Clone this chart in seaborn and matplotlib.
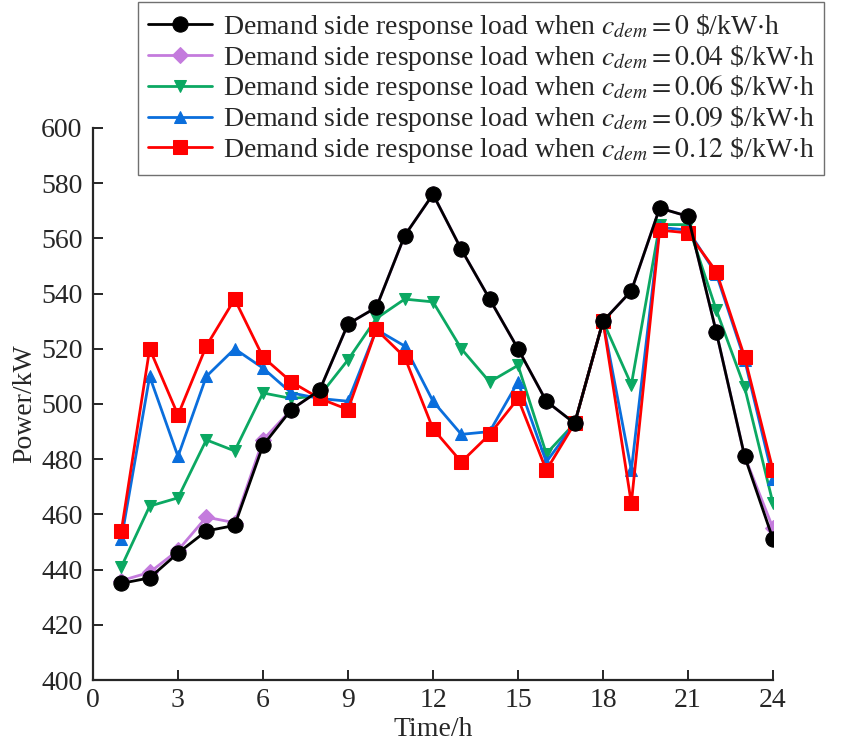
"""
Demand side response load under different demand response prices.
"""
import numpy  as np
import pandas as pd
import matplotlib
matplotlib.use("Agg")
import matplotlib.pyplot as plt
import seaborn           as sns


# ================================================================================
# Data
# ================================================================================
hours = list(range(1, 25))

load_c000 = [435, 437, 446, 454, 456, 485, 498, 505, 529, 535, 561, 576,
             556, 538, 520, 501, 493, 530, 541, 571, 568, 526, 481, 451]
load_c004 = [436, 439, 447, 459, 457, 487, 498, 505, 529, 535, 561, 576,
             556, 538, 520, 501, 493, 530, 541, 571, 568, 526, 481, 455]
load_c006 = [441, 463, 466, 487, 483, 504, 502, 503, 516, 531, 538, 537,
             520, 508, 514, 482, 493, 530, 507, 565, 565, 534, 506, 464]
load_c009 = [451, 510, 481, 510, 520, 513, 504, 502, 501, 527, 521, 501,
             489, 490, 508, 479, 493, 530, 476, 564, 563, 547, 516, 473]
load_c012 = [454, 520, 496, 521, 538, 517, 508, 502, 498, 527, 517, 491,
             479, 489, 502, 476, 493, 530, 464, 563, 562, 548, 517, 476]

prices   = ["0", "0.04", "0.06", "0.09", "0.12"]
series   = [load_c000, load_c004, load_c006, load_c009, load_c012]
colors   = ["#000000", "#C47BDD", "#0BA862", "#0A6EDC", "#FF0000"]
markers  = ["o", "D", "v", "^", "s"]
msizes   = [11, 8, 9, 9, 10]
zorders  = [10, 3, 4, 5, 6]

# ================================================================================
# Styling
# ================================================================================
sns.set_style("ticks")
plt.rcParams["font.family"]      = ["Liberation Serif", "DejaVu Serif"]
plt.rcParams["mathtext.fontset"] = "stix"
plt.rcParams["axes.linewidth"]   = 1.6

TICK_SIZE   = 20
LABEL_SIZE  = 20
LEGEND_SIZE = 20

fig = plt.figure(figsize=(8.41, 7.55), dpi=100)
ax  = fig.add_axes([93 / 841, 1 - 680 / 755, 680 / 841, 552 / 755])

# --------------------------------------------------------------------------------
# Plot every series
# --------------------------------------------------------------------------------
for price, vals, col, mk, ms, z in zip(prices, series, colors, markers, msizes, zorders):
    label = f"Demand side response load when $c_{{dem}}={price}$ \\$/kW$\\cdot$h"
    sns.lineplot(x=hours, y=vals, color=col, marker=mk, markersize=ms,
                 markeredgecolor=col, linewidth=2.0, ax=ax, label=label, zorder=z)

# --------------------------------------------------------------------------------
# Axes
# --------------------------------------------------------------------------------
ax.set_xlim(0, 24)
ax.set_ylim(400, 600)
ax.set_xticks(np.arange(0, 25, 3))
ax.set_yticks(np.arange(400, 601, 20))
ax.tick_params(axis="both", direction="in", length=7, width=1.4, labelsize=TICK_SIZE)
ax.tick_params(axis="x", pad=6)
ax.tick_params(axis="y", pad=7.5)
sns.despine(ax=ax)

ax.set_xlabel("Time/h",   fontsize=LABEL_SIZE, labelpad=3)
ax.set_ylabel("Power/kW", fontsize=LABEL_SIZE, labelpad=3)

# Legend (spills over the right edge of the figure, like the reference)
handles, labels = ax.get_legend_handles_labels()
leg = fig.legend(handles, labels, loc="upper left",
                 bbox_to_anchor=(138 / 841, 1 - 2 / 755),
                 fontsize=LEGEND_SIZE, frameon=True, fancybox=False,
                 edgecolor="#707070", framealpha=1, borderpad=0.35,
                 labelspacing=0.03, handlelength=2.3, handletextpad=0.4,
                 borderaxespad=0)
leg.get_frame().set_linewidth(1.0)
ax.get_legend().remove()

fig.savefig("out.png", dpi=100)
